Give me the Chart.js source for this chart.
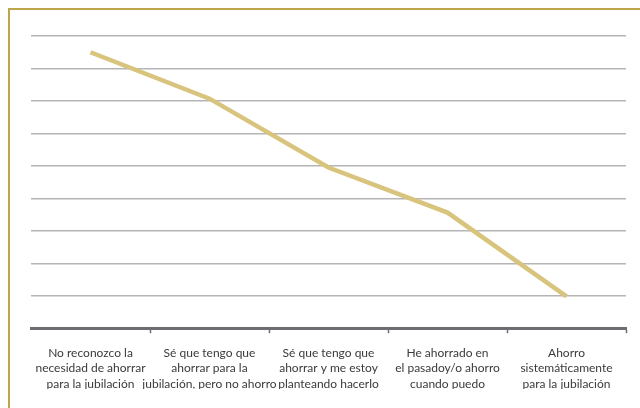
<!DOCTYPE html>
<html>
<head>
<meta charset="utf-8">
<script src="https://cdn.jsdelivr.net/npm/chart.js@4/dist/chart.umd.min.js"></script>
<style>
  html, body { margin: 0; padding: 0; background: #fff; width: 640px; height: 408px; overflow: hidden; }
  #frame { position: absolute; left: 8px; top: 8px; width: 640px; height: 410px;
           border-top: 2px solid #bca64c; border-left: 2px solid #bca64c; }
  #clip { position: absolute; left: 0; top: 0; width: 640px; height: 389px; overflow: hidden; }
  #wrap { position: absolute; left: 0; top: 0; width: 640px; height: 408px; }
</style>
</head>
<body>
<div id="frame"></div>
<div id="clip"><div id="wrap"><canvas id="chart"></canvas></div></div>
<script>
// ===== Data =====
const categories = [
  ["No reconozco la", "necesidad de ahorrar", "para la jubilación"],
  ["Sé que tengo que", "ahorrar para la", "jubilación, pero no ahorro"],
  ["Sé que tengo que", "ahorrar y me estoy", "planteando hacerlo"],
  ["He ahorrado en", "el pasadoy/o ahorro", "cuando puedo"],
  ["Ahorro", "sistemáticamente", "para la jubilación"]
];
const values = [8.5, 7.07, 4.95, 3.56, 0.98];
const yMin = 0;
const yMax = 9;

// ===== Chart =====
const ctx = document.getElementById("chart");
new Chart(ctx, {
  type: "line",
  data: {
    labels: categories,
    datasets: [{
      data: values,
      borderColor: "#d8c47c",
      borderWidth: 4.5,
      tension: 0,
      pointRadius: 0,
      fill: false
    }]
  },
  options: {
    responsive: true,
    maintainAspectRatio: false,
    animation: false,
    layout: { padding: { left: 31, right: 14, top: 36, bottom: 4 } },
    plugins: { legend: { display: false }, tooltip: { enabled: false } },
    scales: {
      x: {
        offset: true,
        grid: {
          offset: true,
          drawOnChartArea: false,
          drawTicks: true,
          tickLength: 5,
          tickWidth: 1.5,
          color: (c) => c.index === 0 ? "rgba(0,0,0,0)" : "#6d6e71"
        },
        border: { display: true, color: "#6d6e71", width: 3 },
        ticks: {
          color: "#3a3a3a",
          padding: 12,
          maxRotation: 0,
          autoSkip: false,
          font: { family: "Lato", size: 12, lineHeight: 1.3 }
        }
      },
      y: {
        min: yMin,
        max: yMax,
        ticks: { display: false, stepSize: 1 },
        border: { display: false },
        grid: {
          color: "#b5b5b8",
          lineWidth: 1.5,
          drawTicks: false
        }
      }
    }
  }
});
</script>
</body>
</html>
